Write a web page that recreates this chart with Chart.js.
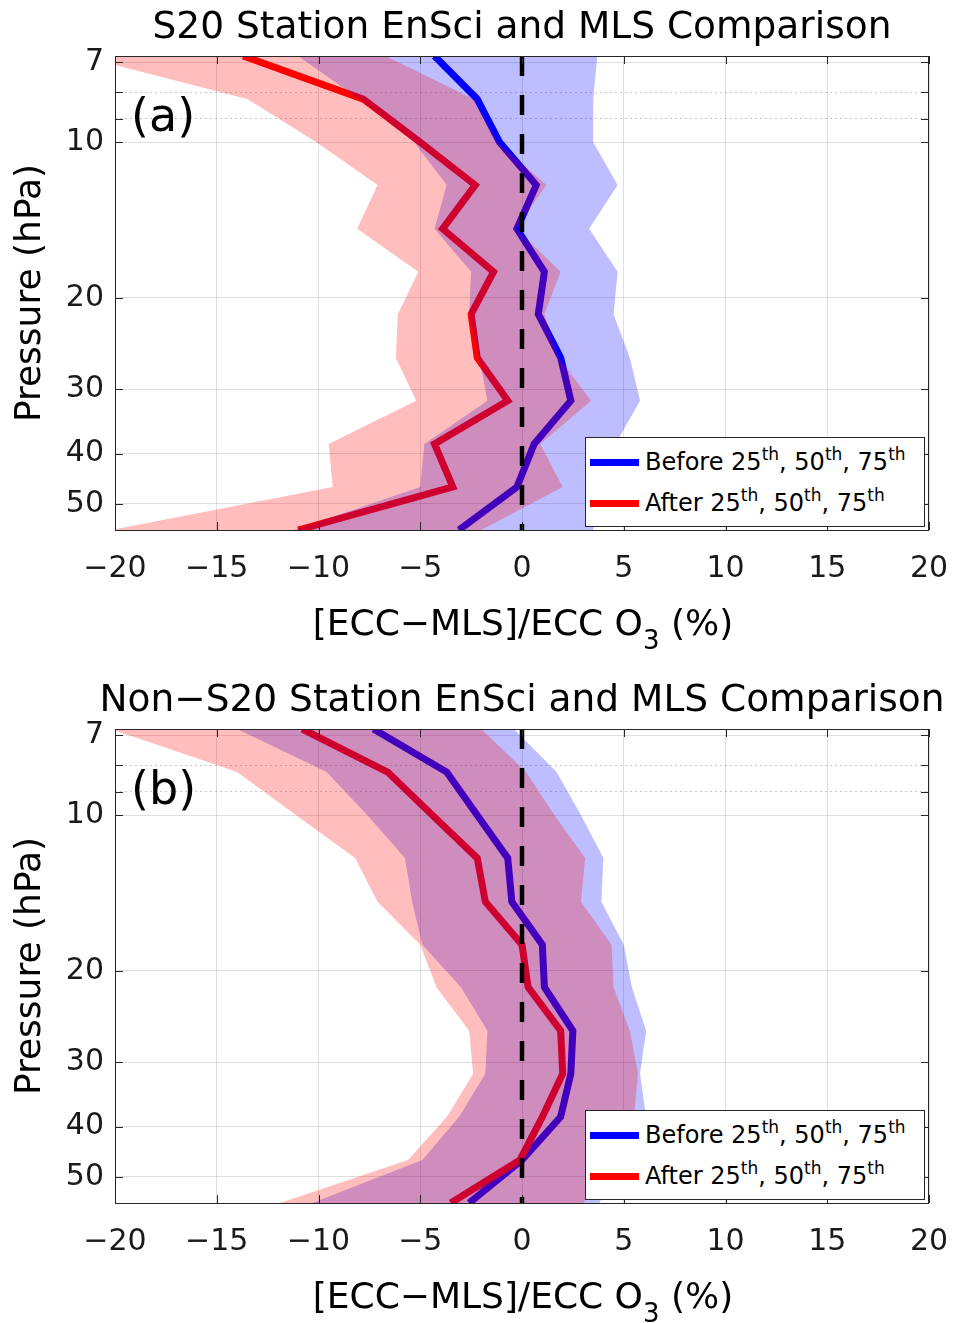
<!DOCTYPE html>
<html><head><meta charset="utf-8">
<script src="https://cdn.jsdelivr.net/npm/chart.js@4/dist/chart.umd.min.js"></script>
<style>
html,body{margin:0;padding:0;background:#fff;}
body{width:956px;height:1323px;position:relative;overflow:hidden;font-family:'DejaVu Sans',sans-serif;color:#000;}
.panel{position:absolute;left:0;width:956px;height:650px;}
.panel canvas{position:absolute;left:0;top:0;}
.title{position:absolute;left:0;top:7px;width:1044px;text-align:center;font-size:37.5px;line-height:1;white-space:nowrap;}
.xlabel{position:absolute;left:0;top:605px;width:1046px;text-align:center;font-size:36px;line-height:1;white-space:nowrap;}
.xlabel .sub{font-size:26px;position:relative;top:14px;}
.ylabel{position:absolute;left:-172px;top:275px;width:400px;height:36px;text-align:center;font-size:36px;line-height:36px;white-space:nowrap;transform:rotate(-90deg);transform-origin:50% 50%;}
.plabel{position:absolute;left:131px;top:92px;font-size:46px;line-height:1;}
.legend{position:absolute;left:585px;top:437px;width:338px;height:88px;border:1px solid #262626;background:#fff;}
.legend .ln{position:absolute;left:4px;width:49px;height:7px;}
.legend .tx{position:absolute;left:59px;font-size:24px;line-height:1;white-space:nowrap;}
.legend .s{font-size:17px;position:relative;top:-10px;}
</style></head>
<body>
<div class="panel" style="top:0px">
  <canvas id="ca" width="956" height="650"></canvas>
  <div class="title">S20 Station EnSci and MLS Comparison</div>
  <div class="ylabel">Pressure (hPa)</div>
  <div class="xlabel">[ECC−MLS]/ECC O<span class="sub">3</span> (%)</div>
  <div class="plabel">(a)</div>
  <div class="legend">
    <div class="ln" style="top:21px;background:#0000ff"></div>
    <div class="tx" style="top:12px">Before 25<span class="s">th</span>, 50<span class="s">th</span>, 75<span class="s">th</span></div>
    <div class="ln" style="top:62px;background:#ff0000"></div>
    <div class="tx" style="top:53px">After 25<span class="s">th</span>, 50<span class="s">th</span>, 75<span class="s">th</span></div>
  </div>
</div>
<div class="panel" style="top:673px">
  <canvas id="cb" width="956" height="650"></canvas>
  <div class="title">Non−S20 Station EnSci and MLS Comparison</div>
  <div class="ylabel">Pressure (hPa)</div>
  <div class="xlabel">[ECC−MLS]/ECC O<span class="sub">3</span> (%)</div>
  <div class="plabel">(b)</div>
  <div class="legend">
    <div class="ln" style="top:21px;background:#0000ff"></div>
    <div class="tx" style="top:12px">Before 25<span class="s">th</span>, 50<span class="s">th</span>, 75<span class="s">th</span></div>
    <div class="ln" style="top:62px;background:#ff0000"></div>
    <div class="tx" style="top:53px">After 25<span class="s">th</span>, 50<span class="s">th</span>, 75<span class="s">th</span></div>
  </div>
</div>
<script>
// Pressure levels (hPa)
const levels = [6.81, 8.25, 10.0, 12.1, 14.7, 17.8, 21.5, 26.1, 31.6, 38.3, 46.4, 56.2];
const yTickValues = [7, 10, 20, 30, 40, 50];
const yMinorTickValues = [8, 9];
const xTickStep = 5;

// Panel (a): S20 station
const aBeforeP25 = [-11.0, -8.0, -5.3, -3.7, -4.3, -2.5, -2.6, -2.1, -1.7, -4.8, -5.0, -11.2];
const aBeforeP50 = [-4.3, -2.2, -1.1, 0.7, -0.25, 1.1, 0.8, 1.9, 2.4, 0.6, -0.25, -3.1];
const aBeforeP75 = [3.7, 3.5, 3.5, 4.7, 3.3, 4.7, 4.5, 5.3, 5.8, 4.6, 4.0, 3.5];
const aAfterP25 = [-21.7, -13.5, -10.1, -7.1, -8.1, -5.1, -6.1, -6.2, -5.2, -9.5, -9.3, -20.2];
const aAfterP50 = [-13.7, -7.8, -5.0, -2.3, -3.9, -1.4, -2.5, -2.2, -0.7, -4.3, -3.4, -11.0];
const aAfterP75 = [-6.7, -2.4, -1.2, 1.2, -0.3, 1.9, 1.1, 1.8, 3.4, 0.9, 2.0, -2.0];

// Panel (b): Non-S20 stations
const bBeforeP25 = [-14.0, -9.6, -7.6, -5.75, -5.4, -4.9, -3.0, -1.7, -1.8, -3.1, -4.9, -10.3];
const bBeforeP50 = [-7.3, -3.7, -2.2, -0.7, -0.5, 1.0, 1.1, 2.5, 2.4, 1.9, 0.0, -2.6];
const bBeforeP75 = [-0.4, 1.7, 2.9, 4.0, 3.9, 5.0, 5.4, 6.1, 5.8, 6.1, 5.0, 3.8];
const bAfterP25 = [-20.2, -14.0, -11.1, -8.2, -7.1, -5.0, -4.2, -2.6, -2.4, -3.7, -5.6, -11.9];
const bAfterP50 = [-10.8, -6.6, -4.4, -2.2, -1.8, 0.0, 0.3, 1.9, 2.0, 1.0, -0.1, -3.5];
const bAfterP75 = [-2.0, 0.2, 1.6, 3.1, 2.9, 4.4, 4.5, 5.3, 5.7, 5.5, 4.5, 3.0];

const AXC = '#262626';
const GRID = 'rgba(38,38,38,0.15)';
const tickFont = {family: "'DejaVu Sans', sans-serif", size: 30};

const frameTicks = {
  id: 'frameTicks',
  afterDatasetsDraw(chart) {
    const {ctx, chartArea: a, scales} = chart;
    const x = scales.x, y = scales.y;
    ctx.save();
    ctx.strokeStyle = AXC; ctx.lineWidth = 1;
    ctx.beginPath();
    x.ticks.forEach(t => {
      const p = Math.round(x.getPixelForValue(t.value)) + 0.5;
      ctx.moveTo(p, a.bottom); ctx.lineTo(p, a.bottom - 8);
      ctx.moveTo(p, a.top); ctx.lineTo(p, a.top + 8);
    });
    yTickValues.concat(yMinorTickValues).forEach(v => {
      const p = Math.round(y.getPixelForValue(v)) + 0.5;
      ctx.moveTo(a.left, p); ctx.lineTo(a.left + 8, p);
      ctx.moveTo(a.right, p); ctx.lineTo(a.right - 8, p);
    });
    ctx.stroke();
    ctx.strokeRect(Math.round(a.left) + 0.5, Math.round(a.top) + 0.5, Math.round(a.right - a.left) - 1, Math.round(a.bottom - a.top));
    ctx.restore();
  }
};

function profile(vals) { return levels.map((p, i) => ({x: vals[i], y: p})); }
function band(lo, hi) {
  return levels.map((p, i) => ({x: lo[i], y: p}))
    .concat(levels.map((p, i) => ({x: hi[i], y: p})).reverse());
}

function makeChart(id, bP25, bP50, bP75, aP25, aP50, aP75) {
  const yMin = levels[0], yMax = levels[levels.length - 1];
  return new Chart(document.getElementById(id), {
    type: 'line',
    data: {
      datasets: [
        {label: 'Before 50th', data: profile(bP50), borderColor: '#0000ff', borderWidth: 7, pointRadius: 0, fill: false, order: 5, tension: 0},
        {label: 'After 50th', data: profile(aP50), borderColor: '#ff0000', borderWidth: 7, pointRadius: 0, fill: false, order: 4, tension: 0},
        {label: 'Before 25th-75th', data: band(bP25, bP75), borderWidth: 0, borderColor: 'rgba(0,0,0,0)', backgroundColor: 'rgba(0,0,255,0.26)', pointRadius: 0, fill: 'shape', order: 3, tension: 0},
        {label: 'After 25th-75th', data: band(aP25, aP75), borderWidth: 0, borderColor: 'rgba(0,0,0,0)', backgroundColor: 'rgba(255,0,0,0.26)', pointRadius: 0, fill: 'shape', order: 2, tension: 0},
        {label: 'zero', data: [{x: 0, y: yMin}, {x: 0, y: yMax}], borderColor: '#000', borderWidth: 4.5, borderDash: [20, 19], pointRadius: 0, fill: false, order: 1}
      ]
    },
    options: {
      responsive: false,
      animation: false,
      events: [],
      layout: {padding: {left: 0, right: 27, top: 56, bottom: 0}},
      plugins: {legend: {display: false}, title: {display: false}, tooltip: {enabled: false}},
      scales: {
        x: {
          type: 'linear', min: -20, max: 20, position: 'bottom',
          ticks: {stepSize: xTickStep, font: tickFont, color: '#1a1a1a', padding: 21, maxRotation: 0,
            callback: v => String(v).replace('-', '\u2212')},
          grid: {color: GRID, lineWidth: 1, drawTicks: false},
          border: {display: false},
          afterFit(s) { s.height = 120; s.paddingLeft = 0; s.paddingRight = 0; }
        },
        y: {
          type: 'logarithmic', reverse: true, min: yMin, max: yMax, position: 'left',
          afterBuildTicks(s) { s.ticks = yTickValues.map(v => ({value: v})); },
          ticks: {font: tickFont, color: '#1a1a1a', padding: 11, callback: v => String(v)},
          grid: {color: GRID, lineWidth: 1, drawTicks: false},
          border: {display: false},
          afterFit(s) { s.width = 115; s.paddingTop = 0; s.paddingBottom = 0; }
        },
        yMinor: {
          type: 'logarithmic', reverse: true, min: yMin, max: yMax, position: 'left', axis: 'y',
          afterBuildTicks(s) { s.ticks = yMinorTickValues.map(v => ({value: v})); },
          ticks: {display: false},
          grid: {color: 'rgba(38,38,38,0.25)', lineWidth: 1, drawTicks: false, borderDash: [2, 3]},
          border: {display: false, dash: [2, 3]},
          afterFit(s) { s.width = 0; s.paddingTop = 0; s.paddingBottom = 0; }
        }
      }
    },
    plugins: [frameTicks]
  });
}

makeChart('ca', aBeforeP25, aBeforeP50, aBeforeP75, aAfterP25, aAfterP50, aAfterP75);
makeChart('cb', bBeforeP25, bBeforeP50, bBeforeP75, bAfterP25, bAfterP50, bAfterP75);
</script>
</body></html>
